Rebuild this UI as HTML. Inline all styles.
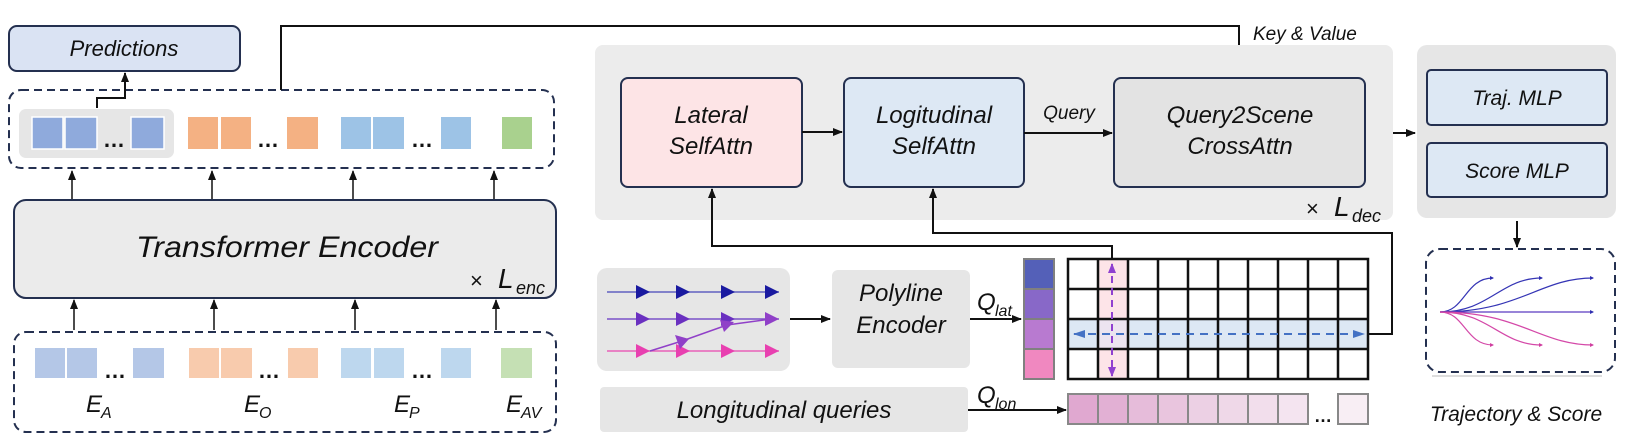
<!DOCTYPE html>
<html><head><meta charset="utf-8"><style>
html,body{margin:0;padding:0;background:#fff}
svg{display:block}
text{font-family:"Liberation Sans",sans-serif;font-style:italic;fill:#111}
</style></head><body>
<svg width="1645" height="443" viewBox="0 0 1645 443" xmlns="http://www.w3.org/2000/svg">
<defs>
<marker id="ah" markerWidth="10" markerHeight="10" refX="9" refY="5" orient="auto" markerUnits="userSpaceOnUse"><path d="M0,1 L10,5 L0,9 z" fill="#111"/></marker>
<marker id="ahp" markerWidth="10" markerHeight="10" refX="9" refY="5" orient="auto-start-reverse" markerUnits="userSpaceOnUse"><path d="M0,1 L10,5 L0,9 z" fill="#9040d0"/></marker>
<marker id="ahb" markerWidth="12" markerHeight="10" refX="11" refY="5" orient="auto-start-reverse" markerUnits="userSpaceOnUse"><path d="M0,1 L12,5 L0,9 z" fill="#4472c4"/></marker>
<marker id="tb" markerWidth="4" markerHeight="4" refX="3" refY="2" orient="auto" markerUnits="userSpaceOnUse"><path d="M0,0 L4,2 L0,4 z" fill="#3030b0"/></marker>
<marker id="tp" markerWidth="4" markerHeight="4" refX="3" refY="2" orient="auto" markerUnits="userSpaceOnUse"><path d="M0,0 L4,2 L0,4 z" fill="#d040a0"/></marker>
<marker id="pb" markerWidth="14" markerHeight="14" refX="7" refY="7" orient="auto" markerUnits="userSpaceOnUse"><path d="M0,0 L14,7 L0,14 z" fill="#1a1aa0"/></marker>
<marker id="pv" markerWidth="14" markerHeight="14" refX="7" refY="7" orient="auto" markerUnits="userSpaceOnUse"><path d="M0,0 L14,7 L0,14 z" fill="#6a30c0"/></marker>
<marker id="pp" markerWidth="14" markerHeight="14" refX="7" refY="7" orient="auto" markerUnits="userSpaceOnUse"><path d="M0,0 L14,7 L0,14 z" fill="#e840b0"/></marker>
<marker id="pd" markerWidth="14" markerHeight="14" refX="7" refY="7" orient="auto" markerUnits="userSpaceOnUse"><path d="M0,0 L14,7 L0,14 z" fill="#9040c8"/></marker>
</defs>

<!-- Predictions -->
<rect x="9" y="26" width="231" height="45" rx="8" fill="#dae3f3" stroke="#243050" stroke-width="2"/>
<text x="124" y="56" font-size="22" text-anchor="middle">Predictions</text>

<!-- output dashed -->
<rect x="9" y="90" width="545" height="78" rx="12" fill="none" stroke="#243050" stroke-width="2" stroke-dasharray="8,5"/>
<rect x="19" y="109" width="155" height="49" rx="7" fill="#e6e6e6"/>
<g fill="#8faadc" stroke="#fff" stroke-width="1.5">
<rect x="32" y="117" width="31" height="32"/><rect x="65" y="117" width="32" height="32"/><rect x="131" y="117" width="33" height="32"/>
</g>
<g fill="#f4b183"><rect x="188" y="117" width="30" height="32"/><rect x="221" y="117" width="30" height="32"/><rect x="287" y="117" width="31" height="32"/></g>
<g fill="#9dc3e6"><rect x="341" y="117" width="30" height="32"/><rect x="373" y="117" width="31" height="32"/><rect x="441" y="117" width="30" height="32"/></g>
<rect x="502" y="117" width="30" height="32" fill="#a9d18e"/>
<g font-size="22" font-weight="bold" font-style="normal"><text x="103" y="147" style="font-style:normal">…</text><text x="257" y="147" style="font-style:normal">…</text><text x="411" y="147" style="font-style:normal">…</text></g>

<path d="M97,108 V98 H125 V73" fill="none" stroke="#111" stroke-width="2" marker-end="url(#ah)"/>
<path d="M281,90 V26 H1239 V77" fill="none" stroke="#111" stroke-width="2" marker-end="url(#ah)"/>

<g stroke="#111" stroke-width="1.5" fill="none" marker-end="url(#ah)">
<path d="M72,199 V171"/><path d="M212,199 V171"/><path d="M353,199 V171"/><path d="M494,199 V171"/>
<path d="M74,330 V300"/><path d="M214,330 V300"/><path d="M355,330 V300"/><path d="M496,330 V300"/>
</g>

<!-- Encoder -->
<rect x="14" y="200" width="542" height="98" rx="12" fill="#ebebeb" stroke="#243050" stroke-width="2"/>
<text x="287" y="257" font-size="30" text-anchor="middle" textLength="302" lengthAdjust="spacingAndGlyphs">Transformer Encoder</text>
<text x="470" y="288" font-size="22" style="font-style:normal">×</text>
<text x="498" y="288" font-size="28">L</text><text x="516" y="294" font-size="18">enc</text>

<!-- Input -->
<rect x="14" y="332" width="542" height="100" rx="12" fill="none" stroke="#243050" stroke-width="2" stroke-dasharray="8,5"/>
<g fill="#b4c7e7"><rect x="35" y="348" width="30" height="30"/><rect x="67" y="348" width="30" height="30"/><rect x="133" y="348" width="31" height="30"/></g>
<g fill="#f8cbad"><rect x="189" y="348" width="30" height="30"/><rect x="221" y="348" width="31" height="30"/><rect x="288" y="348" width="30" height="30"/></g>
<g fill="#bdd7ee"><rect x="341" y="348" width="30" height="30"/><rect x="374" y="348" width="30" height="30"/><rect x="441" y="348" width="30" height="30"/></g>
<rect x="501" y="348" width="31" height="30" fill="#c5e0b4"/>
<g font-size="22" font-weight="bold"><text x="104" y="378" style="font-style:normal">…</text><text x="258" y="378" style="font-style:normal">…</text><text x="411" y="378" style="font-style:normal">…</text></g>
<g font-size="24"><text x="86" y="412">E</text><text x="244" y="412">E</text><text x="394" y="412">E</text><text x="506" y="412">E</text></g>
<g font-size="16"><text x="101" y="418">A</text><text x="259" y="418">O</text><text x="409" y="418">P</text><text x="521" y="418">AV</text></g>

<!-- Decoder -->
<rect x="595" y="45" width="798" height="175" rx="8" fill="#ececec"/>
<rect x="621" y="78" width="181" height="109" rx="7" fill="#fde4e6" stroke="#243050" stroke-width="2"/>
<text x="711" y="123" font-size="24" text-anchor="middle">Lateral</text>
<text x="711" y="154" font-size="24" text-anchor="middle">SelfAttn</text>
<rect x="844" y="78" width="180" height="109" rx="7" fill="#dde8f4" stroke="#243050" stroke-width="2"/>
<text x="934" y="123" font-size="24" text-anchor="middle">Logitudinal</text>
<text x="934" y="154" font-size="24" text-anchor="middle">SelfAttn</text>
<rect x="1114" y="78" width="251" height="109" rx="7" fill="#e3e3e3" stroke="#243050" stroke-width="2"/>
<text x="1240" y="123" font-size="24" text-anchor="middle">Query2Scene</text>
<text x="1240" y="154" font-size="24" text-anchor="middle">CrossAttn</text>
<text x="1069" y="119" font-size="19" text-anchor="middle">Query</text>
<text x="1253" y="40" font-size="19">Key &amp; Value</text>
<text x="1306" y="216" font-size="22" style="font-style:normal">×</text>
<text x="1334" y="216" font-size="28">L</text><text x="1352" y="222" font-size="18">dec</text>
<g stroke="#111" stroke-width="2" fill="none" marker-end="url(#ah)">
<path d="M802,132 H842"/><path d="M1024,133 H1112"/><path d="M1393,133 H1415"/>
<path d="M1112,259 V246 H712 V189"/>
<path d="M1368,334 H1392 V233 H933 V189"/>
<path d="M1517,221 V247"/>
</g>

<!-- MLP -->
<rect x="1417" y="45" width="199" height="173" rx="10" fill="#e6e6e6"/>
<rect x="1427" y="70" width="180" height="55" rx="4" fill="#dde8f4" stroke="#243050" stroke-width="2"/>
<text x="1517" y="105" font-size="21" text-anchor="middle">Traj. MLP</text>
<rect x="1427" y="143" width="180" height="54" rx="4" fill="#dde8f4" stroke="#243050" stroke-width="2"/>
<text x="1517" y="178" font-size="21" text-anchor="middle">Score MLP</text>

<!-- Traj output -->
<rect x="1426" y="249" width="189" height="123" rx="14" fill="none" stroke="#243050" stroke-width="2" stroke-dasharray="8,5"/>
<line x1="1432" y1="376" x2="1602" y2="376" stroke="#bbb" stroke-width="1"/>
<g fill="none" stroke-width="1.2">
<path d="M1440,312 C1465,312 1465,278 1493,278" stroke="#3535b5" marker-end="url(#tb)"/>
<path d="M1440,312 C1490,312 1500,278 1542,278" stroke="#3535b5" marker-end="url(#tb)"/>
<path d="M1440,312 C1520,312 1540,278 1593,278" stroke="#3535b5" marker-end="url(#tb)"/>
<path d="M1440,312 H1593" stroke="#5a3ac0" marker-end="url(#tb)"/>
<path d="M1440,312 C1465,312 1465,345 1493,345" stroke="#d448a8" marker-end="url(#tp)"/>
<path d="M1440,312 C1490,312 1500,345 1542,345" stroke="#d448a8" marker-end="url(#tp)"/>
<path d="M1440,312 C1520,312 1540,345 1593,345" stroke="#d448a8" marker-end="url(#tp)"/>
</g>
<text x="1516" y="421" font-size="21" text-anchor="middle">Trajectory &amp; Score</text>

<!-- Polyline box -->
<rect x="597" y="268" width="193" height="103" rx="10" fill="#e6e6e6"/>
<line x1="607" y1="292" x2="779" y2="292" stroke="#6060c0" stroke-width="1.5"/>
<line x1="607" y1="319" x2="779" y2="319" stroke="#7a50c8" stroke-width="1.5"/>
<line x1="607" y1="351" x2="779" y2="351" stroke="#e860b8" stroke-width="1.5"/>
<polyline points="650,351 682,341 727,325 771,319" fill="none" stroke="#9040c8" stroke-width="1.5"/>
<g fill="#1a1aa0"><path d="M636,285 L650,292 L636,299z"/><path d="M676,285 L690,292 L676,299z"/><path d="M721,285 L735,292 L721,299z"/><path d="M765,285 L779,292 L765,299z"/></g>
<g fill="#6a30c0"><path d="M636,312 L650,319 L636,326z"/><path d="M676,312 L690,319 L676,326z"/><path d="M721,312 L735,319 L721,326z"/></g>
<path d="M765,312 L779,319 L765,326z" fill="#9040c8"/>
<g fill="#e840b0"><path d="M636,344 L650,351 L636,358z"/><path d="M676,344 L690,351 L676,358z"/><path d="M721,344 L735,351 L721,358z"/><path d="M765,344 L779,351 L765,358z"/></g>
<path d="M675,335 L689,339 L680,349z" fill="#9040c8"/><path d="M720,320 L734,322 L724,332z" fill="#9040c8"/>
<path d="M790,319 H830" stroke="#111" stroke-width="2" marker-end="url(#ah)"/>

<rect x="832" y="270" width="138" height="98" rx="6" fill="#e6e6e6"/>
<text x="901" y="301" font-size="24" text-anchor="middle">Polyline</text>
<text x="901" y="333" font-size="24" text-anchor="middle">Encoder</text>
<rect x="600" y="387" width="368" height="45" rx="4" fill="#e6e6e6"/>
<text x="784" y="418" font-size="24" text-anchor="middle">Longitudinal queries</text>

<path d="M970,319 H1021" stroke="#111" stroke-width="2" marker-end="url(#ah)"/>
<path d="M968,410 H1066" stroke="#111" stroke-width="2" marker-end="url(#ah)"/>
<text x="977" y="310" font-size="24">Q</text><text x="995" y="316" font-size="16">lat</text>
<text x="977" y="403" font-size="24">Q</text><text x="995" y="409" font-size="16">lon</text>

<!-- Q_lat column -->
<g stroke="#808080" stroke-width="2">
<rect x="1024" y="259" width="30" height="30" fill="#5460b8"/>
<rect x="1024" y="289" width="30" height="30" fill="#8868c8"/>
<rect x="1024" y="319" width="30" height="30" fill="#b87ad0"/>
<rect x="1024" y="349" width="30" height="30" fill="#f088c0"/>
</g>

<!-- grid -->
<rect x="1098" y="259" width="30" height="120" fill="#fde4e8"/>
<rect x="1068" y="319" width="30" height="30" fill="#dde8f4"/>
<rect x="1128" y="319" width="240" height="30" fill="#dde8f4"/>
<rect x="1098" y="319" width="30" height="30" fill="#ece4f0"/>
<g stroke="#111" stroke-width="2.5" fill="none">
<rect x="1068" y="259" width="300" height="120"/>
<path d="M1068,289H1368M1068,319H1368M1068,349H1368"/>
<path d="M1098,259V379M1128,259V379M1158,259V379M1188,259V379M1218,259V379M1248,259V379M1278,259V379M1308,259V379M1338,259V379"/>
</g>
<line x1="1074" y1="334" x2="1364" y2="334" stroke="#4472c4" stroke-width="2" stroke-dasharray="8,6" marker-start="url(#ahb)" marker-end="url(#ahb)"/>
<line x1="1112" y1="264" x2="1112" y2="376" stroke="#9040d0" stroke-width="2" stroke-dasharray="7,5" marker-start="url(#ahp)" marker-end="url(#ahp)"/>

<!-- Q_lon row -->
<g stroke="#888" stroke-width="2">
<rect x="1068" y="394" width="30" height="30" fill="#e0a8d0"/>
<rect x="1098" y="394" width="30" height="30" fill="#e2b0d4"/>
<rect x="1128" y="394" width="30" height="30" fill="#e6bcda"/>
<rect x="1158" y="394" width="30" height="30" fill="#e9c5de"/>
<rect x="1188" y="394" width="30" height="30" fill="#ecced3" style="fill:#ecd0e4"/>
<rect x="1218" y="394" width="30" height="30" fill="#efd8e8"/>
<rect x="1248" y="394" width="30" height="30" fill="#f2deec"/>
<rect x="1278" y="394" width="30" height="30" fill="#f4e4f0"/>
<rect x="1338" y="394" width="30" height="30" fill="#f8eef4"/>
</g>
<text x="1314" y="422" font-size="18" font-weight="bold" style="font-style:normal">…</text>
</svg>
</body></html>
